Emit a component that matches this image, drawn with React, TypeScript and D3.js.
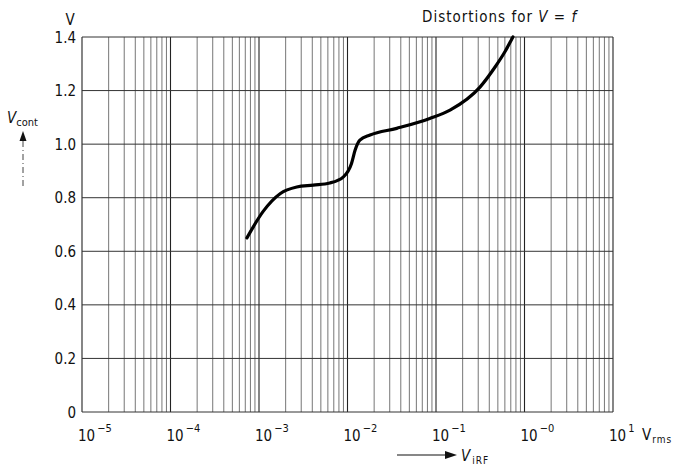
import React from "react";
import * as d3 from "d3";

const decadeExps = [-5, -4, -3, -2, -1, 0, 1];
const decadeSup = ["−5", "−4", "−3", "−2", "−1", "−0", "1"];
const minorMultipliers = [2, 3, 4, 5, 6, 7, 8, 9];
const yTicks = [0, 0.2, 0.4, 0.6, 0.8, 1.0, 1.2, 1.4];
const yTickLabels = ["0", "0.2", "0.4", "0.6", "0.8", "1.0", "1.2", "1.4"];

// Curve: V_iRF (Vrms) vs V_cont (V)
const curveX = [7.3e-4, 1.12e-3, 1.73e-3, 2.67e-3, 4.1e-3, 6.3e-3, 9.0e-3, 1.11e-2, 1.22e-2, 1.38e-2, 1.8e-2, 3.6e-2, 8.5e-2, 0.144, 0.314, 0.465, 0.603, 0.74];
const curveY = [0.65, 0.75, 0.815, 0.84, 0.847, 0.855, 0.878, 0.928, 0.978, 1.015, 1.034, 1.059, 1.096, 1.127, 1.213, 1.288, 1.346, 1.4];

const W = 679;
const H = 471;
const left = 82;
const right = 613;
const top = 37;
const bottom = 412;
const font = "'DejaVu Sans Condensed', 'DejaVu Sans', sans-serif";

export default function App() {
  const x = d3.scaleLog().domain([1e-5, 10]).range([left, right]);
  const y = d3.scaleLinear().domain([0, 1.4]).range([bottom, top]);

  const minorLines: number[] = [];
  decadeExps.slice(0, -1).forEach((e) => {
    minorMultipliers.forEach((m) => minorLines.push(m * Math.pow(10, e)));
  });

  const pts: [number, number][] = curveX.map((v, i) => [x(v), y(curveY[i])]);
  const line = d3.line<[number, number]>().x((d) => d[0]).y((d) => d[1]).curve(d3.curveMonotoneX);

  return (
    <svg width={W} height={H} style={{ position: "absolute", left: 0, top: 0, background: "#fff" }} fontFamily={font}>
      <rect x={0} y={0} width={W} height={H} fill="#fff" />
      {/* minor vertical grid */}
      {minorLines.map((v, i) => (
        <line key={"mv" + i} x1={x(v)} x2={x(v)} y1={top} y2={bottom} stroke="#666" strokeWidth={0.9} />
      ))}
      {/* major vertical grid */}
      {decadeExps.map((e) => (
        <line key={"Mv" + e} x1={x(Math.pow(10, e))} x2={x(Math.pow(10, e))} y1={top} y2={bottom} stroke="#222" strokeWidth={1.1} />
      ))}
      {/* horizontal grid */}
      {yTicks.map((t) => (
        <line key={"h" + t} x1={left} x2={right} y1={y(t)} y2={y(t)} stroke="#333" strokeWidth={1} />
      ))}
      {/* y tick labels */}
      {yTicks.map((t, i) => (
        <text key={"yl" + t} x={76} y={y(t) + 5.5} textAnchor="end" fontSize={15} fill="#111">
          {yTickLabels[i]}
        </text>
      ))}
      {/* x tick labels */}
      {decadeExps.map((e, i) => (
        <text key={"xl" + e} x={x(Math.pow(10, e)) - 4} y={441} fontSize={15} fill="#111">
          10
          <tspan dx={2} dy={-9} fontSize={11}>
            {decadeSup[i]}
          </tspan>
        </text>
      ))}
      {/* curve */}
      <path d={line(pts) || ""} fill="none" stroke="#000" strokeWidth={3.2} strokeLinecap="round" />
      {/* y unit */}
      <text x={70} y={25} fontSize={15} textAnchor="middle" fill="#111">V</text>
      {/* V_cont label */}
      <text x={7} y={123} fontSize={15} fill="#111">
        <tspan fontStyle="italic">V</tspan>
        <tspan fontSize={11} dy={3}>cont</tspan>
      </text>
      <path d="M23,131 L19.5,141 L26.5,141 Z" fill="#111" />
      <line x1={23} x2={23} y1={141} y2={188} stroke="#444" strokeWidth={1} strokeDasharray="6,3,1,3" />
      {/* x unit */}
      <text x={642} y={440} fontSize={15} fill="#111">
        V<tspan fontSize={10} dy={3} dx={1} letterSpacing={1}>rms</tspan>
      </text>
      {/* V_iRF label */}
      <line x1={397} x2={446} y1={455} y2={455} stroke="#111" strokeWidth={1.2} />
      <path d="M457,455 L445,451 L445,459 Z" fill="#111" />
      <text x={461} y={461} fontSize={15} fill="#111">
        <tspan fontStyle="italic">V</tspan>
        <tspan fontSize={10} dy={3} dx={2} letterSpacing={1}>iRF</tspan>
      </text>
      {/* title */}
      <text x={422} y={22} fontSize={15} fill="#111" letterSpacing={1}>
        Distortions for <tspan fontStyle="italic">V</tspan> = <tspan fontStyle="italic">f</tspan>
      </text>
    </svg>
  );
}
